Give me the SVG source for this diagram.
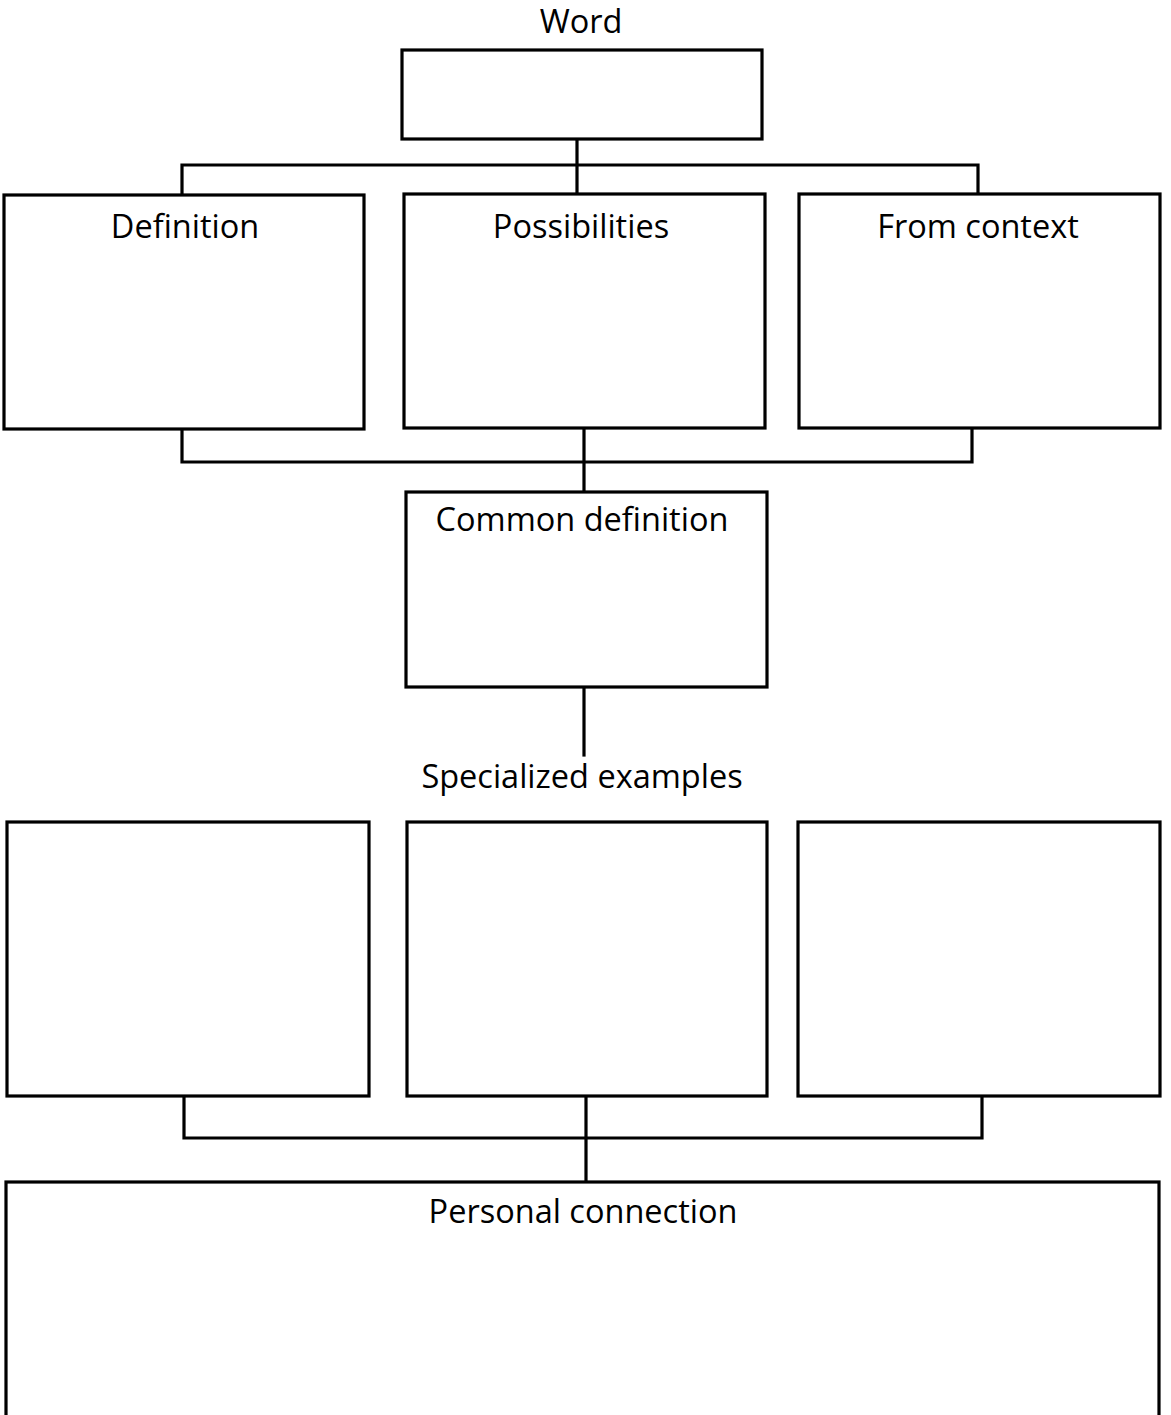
<svg xmlns="http://www.w3.org/2000/svg" width="1171" height="1415" viewBox="0 0 1171 1415">
<style>
.box{fill:#fff;stroke:#000;stroke-width:3.2}
.ln{fill:none;stroke:#000;stroke-width:3.2;stroke-linecap:square}
.lbl{font-family:"Open Sans","Noto Sans","Liberation Sans",sans-serif;font-size:32.5px;font-weight:500;fill:#000;text-anchor:middle}
</style>
<rect width="1171" height="1415" fill="#fff"/>
<g id="connectors">
<path class="ln" d="M577 139V193M182 194V165H978V193"/>
<path class="ln" d="M182 430V462H972V429M584 429V491"/>
<path class="ln" d="M584 688V755"/>
<path class="ln" d="M184 1097V1138H982V1097M586 1097V1181"/>
</g>
<g id="word">
<text class="lbl" x="581" y="33">Word</text>
<rect class="box" x="402" y="50" width="360" height="89"/>
</g>
<g id="definition">
<rect class="box" x="4" y="195" width="360" height="234"/>
<text class="lbl" x="185" y="238">Definition</text>
</g>
<g id="possibilities">
<rect class="box" x="404" y="194" width="361" height="234"/>
<text class="lbl" x="581" y="238">Possibilities</text>
</g>
<g id="from-context">
<rect class="box" x="799" y="194" width="361" height="234"/>
<text class="lbl" x="978" y="238">From context</text>
</g>
<g id="common-definition">
<rect class="box" x="406" y="492" width="361" height="195"/>
<text class="lbl" x="582" y="531">Common definition</text>
</g>
<g id="specialized-examples">
<text class="lbl" x="582" y="788">Specialized examples</text>
</g>
<g id="example-1">
<rect class="box" x="7" y="822" width="362" height="274"/>
</g>
<g id="example-2">
<rect class="box" x="407" y="822" width="360" height="274"/>
</g>
<g id="example-3">
<rect class="box" x="798" y="822" width="362" height="274"/>
</g>
<g id="personal-connection">
<rect class="box" x="6" y="1182" width="1153" height="260"/>
<text class="lbl" x="583" y="1223">Personal connection</text>
</g>
</svg>
